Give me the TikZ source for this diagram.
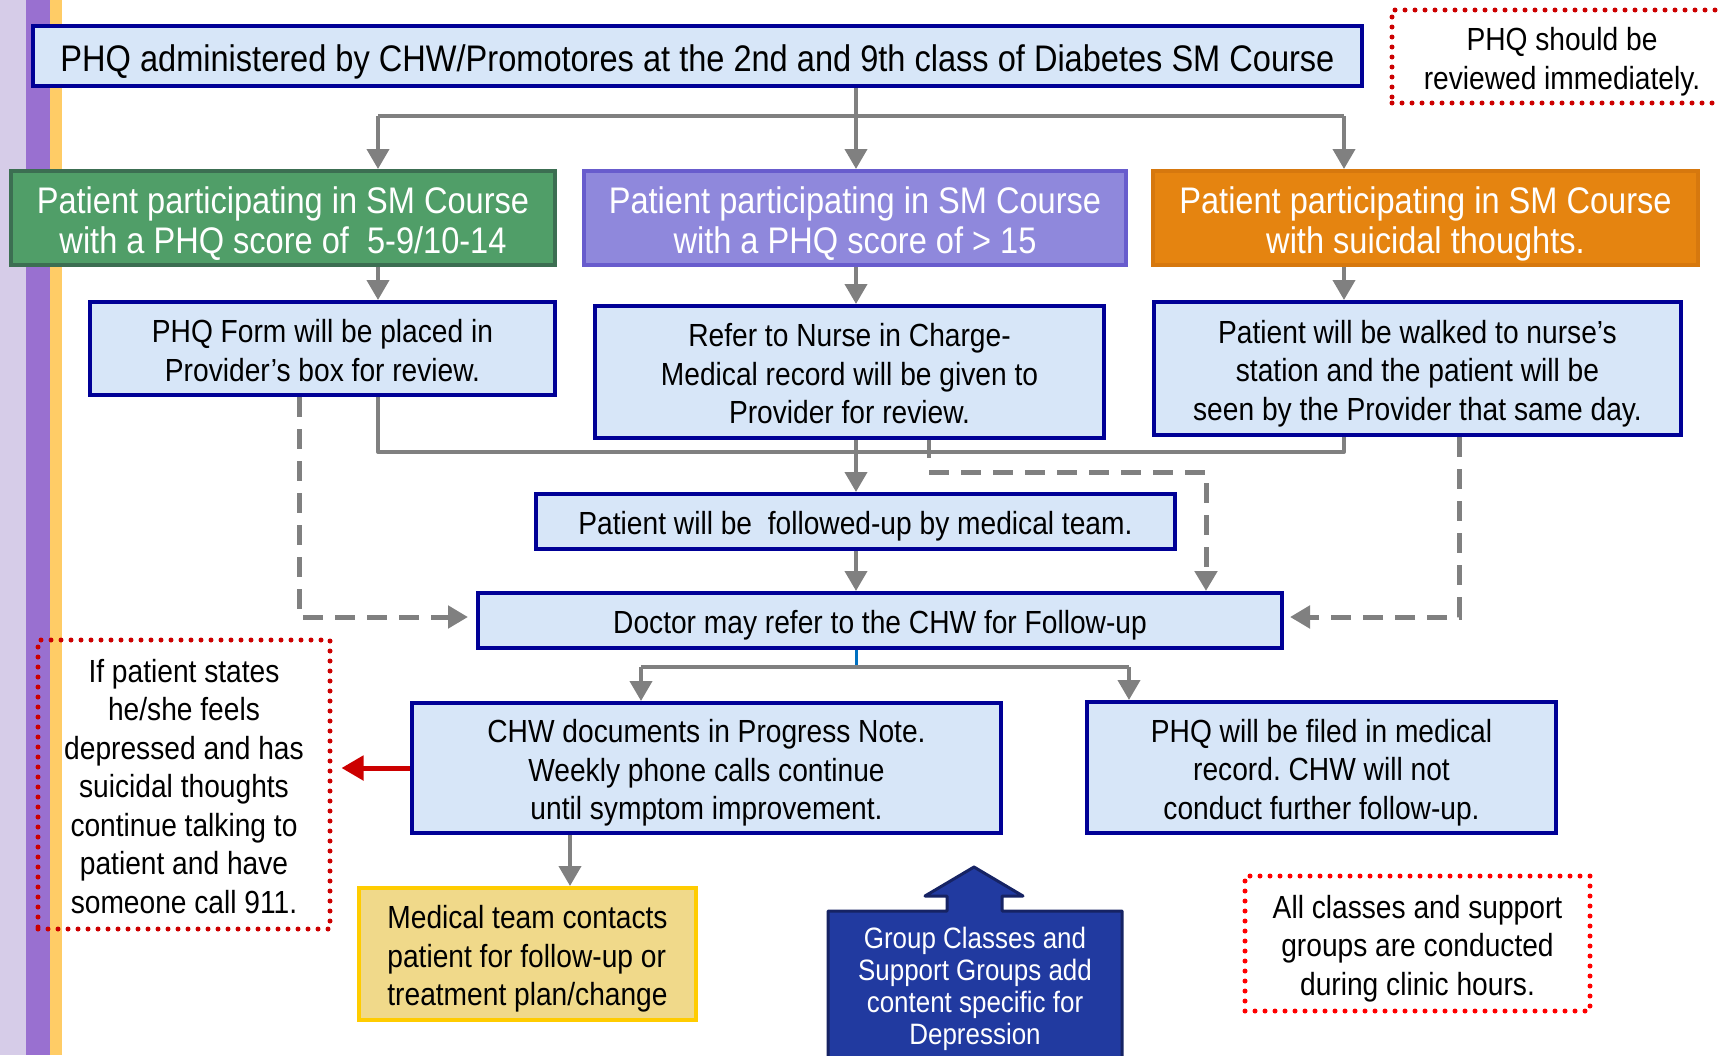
\documentclass[tikz,border=0pt]{standalone}
\usepackage{fontspec}
\setmainfont{Liberation Sans}[FakeStretch=0.88]
\usetikzlibrary{arrows.meta}
\frenchspacing

\definecolor{boxblue}{RGB}{215,230,248}
\definecolor{boxline}{RGB}{0,0,150}
\definecolor{grnfill}{RGB}{80,158,104}
\definecolor{grnline}{RGB}{60,110,82}
\definecolor{prpfill}{RGB}{143,136,220}
\definecolor{prpline}{RGB}{104,92,205}
\definecolor{orgfill}{RGB}{229,132,16}
\definecolor{orgline}{RGB}{214,120,14}
\definecolor{medfill}{RGB}{240,217,138}
\definecolor{medline}{RGB}{255,204,0}
\definecolor{grpfill}{RGB}{33,58,160}
\definecolor{grpline}{RGB}{22,35,100}
\definecolor{notered}{RGB}{204,0,0}
\definecolor{linkgray}{RGB}{128,128,128}
\definecolor{linkblue}{RGB}{0,112,192}
\definecolor{lavstripe}{RGB}{214,204,232}
\definecolor{purstripe}{RGB}{153,112,208}
\definecolor{yelstripe}{RGB}{255,204,102}

\tikzset{
  bluebox/.style={draw=boxline, fill=boxblue, line width=4pt, align=center, inner sep=0pt, font=\fontsize{32}{38.5}\selectfont, text depth=8pt},
  headbox/.style={line width=4pt, align=center, inner sep=0pt, text=white, minimum height=94pt, font=\fontsize{37}{40}\selectfont, text height=79.5pt, text depth=9pt},
  notebox/.style={draw=notered, line width=5pt, dash pattern=on 0pt off 10pt, line cap=round, align=center, inner sep=0pt, font=\fontsize{32}{38.5}\selectfont, text depth=8pt},
  link/.style={draw=linkgray, line width=4pt},
  flow/.style={link, -{Triangle[width=22pt,length=20pt]}},
  dflow/.style={flow, line width=5pt, dash pattern=on 20pt off 12pt},
  % height of the text for one, two, three or seven lines
  row1/.style={text height=34.9pt},
  row2/.style={text height=73.4pt},
  row3/.style={text height=111.9pt},
  row7/.style={text height=265.9pt},
}

\begin{document}
\begin{tikzpicture}[x=1pt, y=-1pt]
        \useasboundingbox (0,0) rectangle (1719,1055);

        % Draw the stripes on the left
        \fill[lavstripe] (0,0) rectangle (26,1055);
        \fill[purstripe] (26,0) rectangle (50,1055);
        \fill[yelstripe] (50,0) rectangle (62,1055);

        % Top box and the note beside it
        \node[bluebox, minimum width=1329pt, minimum height=60pt, font=\fontsize{37}{40}\selectfont, text height=39.5pt, text depth=9pt] (admin) at (697.5,56) {PHQ administered by CHW/Promotores at the 2nd and 9th class of Diabetes SM Course};
        \node[notebox, row2, minimum width=340pt, minimum height=93pt] (review) at (1562,56.5) {PHQ should be\\reviewed immediately.};

        % The three groups of patients
        \node[headbox, fill=grnfill, draw=grnline, minimum width=544pt] (grn) at (283,218) {Patient participating in SM Course\\with a PHQ score of~ 5-9/10-14};
        \node[headbox, fill=prpfill, draw=prpline, minimum width=542pt] (prp) at (855,218) {Patient participating in SM Course\\with a PHQ score of > 15};
        \node[headbox, fill=orgfill, draw=orgline, minimum width=545pt] (org) at (1425.5,218) {Patient participating in SM Course\\with suicidal thoughts.};

        % What happens to each group
        \node[bluebox, row2, minimum width=465pt, minimum height=93pt] (form) at (322.5,348.5) {PHQ Form will be placed in\\Provider’s box for review.};
        \node[bluebox, row3, minimum width=509pt, minimum height=132pt] (refer) at (849.5,372) {Refer to Nurse in Charge-\\Medical record will be given to\\Provider for review.};
        \node[bluebox, row3, minimum width=527pt, minimum height=133pt] (walk) at (1417.5,368.5) {Patient will be walked to nurse’s\\station and the patient will be\\seen by the Provider that same day.};

        % Follow-up boxes
        \node[bluebox, row1, minimum width=639pt, minimum height=55pt] (fol) at (855.5,521.5) {Patient will be~ followed-up by medical team.};
        \node[bluebox, row1, minimum width=804pt, minimum height=55pt] (doc) at (880,620.5) {Doctor may refer to the CHW for Follow-up};

        % Bottom boxes
        \node[bluebox, row3, minimum width=589pt, minimum height=130pt] (chw) at (706.5,768) {CHW documents in Progress Note.\\Weekly phone calls continue\\until symptom improvement.};
        \node[bluebox, row3, minimum width=469pt, minimum height=131pt] (fil) at (1321.5,767.5) {PHQ will be filed in medical\\record. CHW will not\\conduct further follow-up.};
        \node[notebox, row7, minimum width=292pt, minimum height=289pt] (warn) at (184,784.5) {If patient states\\he/she feels\\depressed and has\\suicidal thoughts\\continue talking to\\patient and have\\someone call 911.};
        \node[draw=medline, fill=medfill, line width=4pt, align=left, inner sep=0pt, minimum width=337pt, minimum height=132pt, font=\fontsize{32}{38.5}\selectfont, text depth=8pt, row3] (med) at (527.5,954) {Medical team contacts\\patient for follow-up or\\treatment plan/change};
        \node[notebox, row3, draw=red, minimum width=345pt, minimum height=135pt] (hours) at (1417.5,943.5) {All classes and support\\groups are conducted\\during clinic hours.};

        % Block arrow for the group classes
        \filldraw[fill=grpfill, draw=grpline, line width=3pt, line join=round] (828,1070) -- (828,911) -- (947,911) -- (947,896) -- (925,896) -- (974,867) -- (1023,896) -- (1002,896) -- (1002,911) -- (1122,911) -- (1122,1070) -- cycle;
        \node[text=white, align=center, inner sep=0pt, font=\fontsize{29.5}{32}\selectfont, text height=127.5pt, text depth=10.8pt] (grp) at (975,986) {Group Classes and\\Support Groups add\\content specific for\\Depression};

        % Split below the top box
        \coordinate (top1) at (378,116);
        \coordinate (top2) at (856,116);
        \coordinate (top3) at (1344,116);
        \draw[link] (admin.south -| top2) -- (top2);
        \draw[link] (top1) -- (top3);
        \draw[flow] (top1) -- (grn.north -| top1);
        \draw[flow] (top2) -- (prp.north -| top2);
        \draw[flow] (top3) -- (org.north -| top3);
        \draw[flow] (grn.south -| top1) -- (form.north -| top1);
        \draw[flow] (prp.south -| top2) -- (refer.north -| top2);
        \draw[flow] (org.south -| top3) -- (walk.north -| top3);

        % Join the three groups again
        \coordinate (mrg1) at (378,452);
        \coordinate (mrg3) at (1344,452);
        \draw[link, line join=round] (form.south -| mrg1) -- (mrg1) -- (mrg3) -- (walk.south -| mrg3);
        \draw[flow] (refer.south -| top2) -- (fol.north -| top2);
        \draw[flow] (fol.south -| top2) -- (doc.north -| top2);

        % Dashed ways to the doctor
        \coordinate (stub) at (929,458);
        \coordinate (dash1) at (929,472);
        \coordinate (dash2) at (1206,472);
        \draw[link] (refer.south -| stub) -- (stub);
        \draw[dflow] (dash1) -- (dash2) -- (doc.north -| dash2);
        \coordinate (ldash) at (299,617);
        \coordinate (rdash) at (1459,617);
        \draw[dflow, shorten >=8pt] (form.south -| ldash) -- (ldash) -- (doc.west |- ldash);
        \draw[dflow, shorten >=6pt] (walk.south -| rdash) -- (rdash) -- (doc.east |- rdash);

        % Split below the doctor
        \coordinate (low) at (856,667);
        \coordinate (low1) at (641,667);
        \coordinate (low2) at (1129,667);
        \draw[linkblue, line width=3pt] (doc.south -| low) -- (low);
        \draw[link] (low1) -- (low2);
        \draw[flow] (low1) -- (chw.north -| low1);
        \draw[flow] (low2) -- (fil.north -| low2);

        % Arrows out of the CHW box
        \coordinate (cm) at (570,836);
        \draw[flow] (chw.south -| cm) -- (med.north -| cm);
        \draw[notered, line width=5pt, -{Triangle[width=24pt,length=22pt]}, shorten >=9pt] (chw.west) -- (chw.west -| warn.east);
\end{tikzpicture}
\end{document}
